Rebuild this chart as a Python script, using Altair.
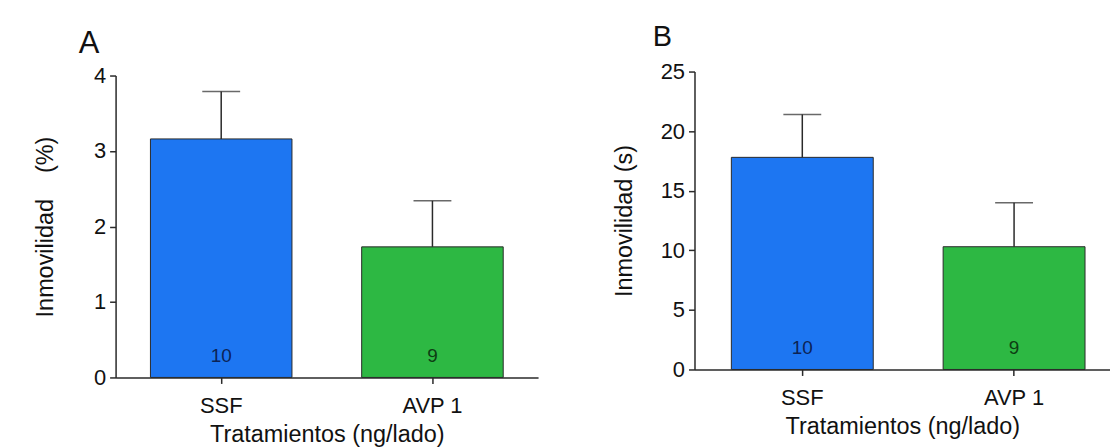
import altair as alt
import pandas as pd

groups = ["SSF", "AVP 1"]
pct_mean = [3.16, 1.73]
pct_sem = [0.63, 0.61]
sec_mean = [17.8, 10.3]
sec_sem = [3.6, 3.7]
n_vals = [10, 9]
bar_colors = ["#1d76f2", "#2db843"]
n_colors = ["#0c2356", "#0d3d13"]

FONT = "Liberation Sans"


def panel(means, sems, ymax, ystep, ytitle, letter, width, height, yrange,
          pad_inner, pad_outer, align, ytitle_pad, letter_dx, letter_offset, letter_size):
    df = pd.DataFrame({
        "g": groups,
        "m": means,
        "hi": [m + s for m, s in zip(means, sems)],
        "n": n_vals,
        "c": bar_colors,
        "tc": n_colors,
    })
    x = alt.X("g:N", sort=groups, title="Tratamientos (ng/lado)",
              scale=alt.Scale(paddingInner=pad_inner, paddingOuter=pad_outer, align=align),
              axis=alt.Axis(labelAngle=0, titlePadding=6, labelPadding=12))
    yscale = alt.Scale(domain=[0, ymax], nice=False, zero=True, range=yrange)
    yaxis = alt.Axis(values=list(range(0, ymax + 1, ystep)), titlePadding=ytitle_pad,
                     labelPadding=4, format="d")
    base = alt.Chart(df)
    bars = base.mark_bar(stroke="#2a2a2a", strokeWidth=1).encode(
        x=x,
        y=alt.Y("m:Q", scale=yscale, axis=yaxis, title=ytitle),
        color=alt.Color("c:N", scale=None),
    )
    err = base.mark_rule(color="#2a2a2a", strokeWidth=1.5).encode(
        x=alt.X("g:N", sort=groups),
        y=alt.Y("m:Q"),
        y2="hi:Q",
    )
    cap = base.mark_tick(color="#2a2a2a", thickness=1.5, size=38).encode(
        x=alt.X("g:N", sort=groups),
        y=alt.Y("hi:Q"),
    )
    labels = base.mark_text(fontSize=19, font=FONT, dy=-22, baseline="middle").encode(
        x=alt.X("g:N", sort=groups),
        y=alt.datum(0),
        text="n:N",
        color=alt.Color("tc:N", scale=None),
    )
    return alt.layer(bars, err, cap, labels).properties(
        width=width, height=height,
        title=alt.TitleParams(letter, anchor="start", frame="group", fontSize=letter_size,
                              font=FONT, fontWeight="normal", color="#111",
                              dx=letter_dx, offset=letter_offset),
    )


pa = panel(pct_mean, pct_sem, 4, 1, "Inmovilidad\u00a0\u00a0\u00a0\u00a0(%)", "A", 424, 307, [307, 4],
           0.33, 0.165, 0.5, 36, -37, 5, 31)
pb = panel(sec_mean, sec_sem, 25, 5, "Inmovilidad (s)", "B", 417, 299, [299, 0],
           0.33, 0.146, 0.596, 24, -42, 9, 29)

chart = alt.hconcat(pa, pb, spacing=74).properties(
    padding={"left": 33, "top": 22, "right": 0, "bottom": 0},
    background="white",
).configure_view(stroke=None).configure_axis(
    grid=False,
    domainColor="#2a2a2a",
    domainWidth=1.5,
    tickColor="#2a2a2a",
    tickWidth=1.5,
    tickSize=6,
    labelFont=FONT,
    labelFontSize=22,
    labelColor="#111",
    titleFont=FONT,
    titleFontSize=23.5,
    titleFontWeight="normal",
    titleColor="#111",
)

chart.save("out.html", embed_options={"renderer": "svg", "actions": False})
